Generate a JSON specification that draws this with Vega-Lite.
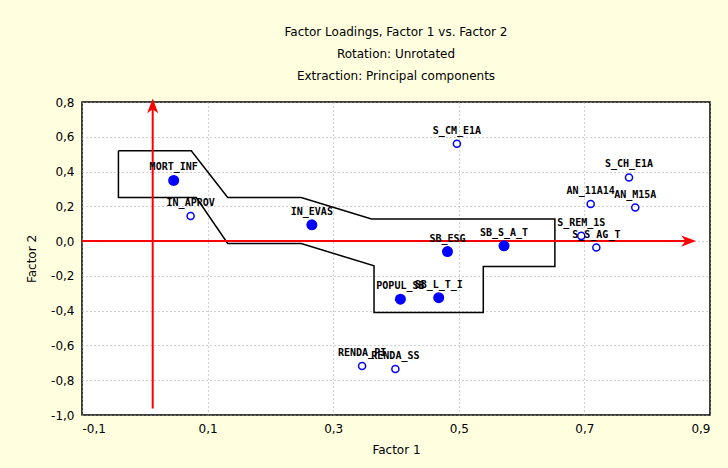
{
  "$schema": "https://vega.github.io/schema/vega-lite/v6.json",
  "autosize": "none",
  "width": 628,
  "height": 313,
  "padding": {"left": 82, "top": 102, "right": 18, "bottom": 53},
  "background": "#FFFFE0",
  "title": {
    "text": ["Factor Loadings, Factor 1 vs. Factor 2", "Rotation: Unrotated", "Extraction: Principal components"],
    "anchor": "middle",
    "font": "DejaVu Sans",
    "fontSize": 12,
    "fontWeight": "normal",
    "lineHeight": 22,
    "offset": 13,
    "color": "#000000"
  },
  "config": {
    "view": {"fill": "#FFFFFF", "stroke": "#000000", "strokeWidth": 1.5},
    "axis": {
      "labelFont": "DejaVu Sans",
      "labelFontSize": 12,
      "labelColor": "#000000",
      "titleFont": "DejaVu Sans",
      "titleFontSize": 12,
      "titleFontWeight": "normal",
      "titleColor": "#000000",
      "ticks": false,
      "domain": false,
      "gridColor": "#A0A0A0",
      "gridDash": [1, 3],
      "gridWidth": 1,
      "gridOpacity": 1
    }
  },
  "datasets": {
    "poly": [
      {"i": 1, "x": -0.042, "y": 0.52},
      {"i": 2, "x": 0.074, "y": 0.52},
      {"i": 3, "x": 0.132, "y": 0.251},
      {"i": 4, "x": 0.249, "y": 0.251},
      {"i": 5, "x": 0.361, "y": 0.127},
      {"i": 6, "x": 0.653, "y": 0.127},
      {"i": 7, "x": 0.653, "y": -0.146},
      {"i": 8, "x": 0.539, "y": -0.146},
      {"i": 9, "x": 0.539, "y": -0.411},
      {"i": 10, "x": 0.365, "y": -0.411},
      {"i": 11, "x": 0.365, "y": -0.142},
      {"i": 12, "x": 0.249, "y": -0.014},
      {"i": 13, "x": 0.132, "y": -0.014},
      {"i": 14, "x": 0.082, "y": 0.251},
      {"i": 15, "x": -0.042, "y": 0.251},
      {"i": 16, "x": -0.042, "y": 0.52}
    ],
    "redaxes": [
      {"x": -0.1, "x2": 0.868, "y": 0, "y2": 0},
      {"x": 0.0126, "x2": 0.0126, "y": -0.963, "y2": 0.79}
    ],
    "arrows": [
      {"x": 0.866, "y": 0, "dir": "right"},
      {"x": 0.0126, "y": 0.778, "dir": "up"}
    ],
    "loadings": [
      {"name": "MORT_INF", "x": 0.046, "y": 0.349, "kind": "filled"},
      {"name": "IN_APROV", "x": 0.073, "y": 0.144, "kind": "open"},
      {"name": "IN_EVAS", "x": 0.266, "y": 0.094, "kind": "filled"},
      {"name": "S_CM_E1A", "x": 0.497, "y": 0.56, "kind": "open"},
      {"name": "S_CH_E1A", "x": 0.771, "y": 0.366, "kind": "open"},
      {"name": "AN_11A14", "x": 0.71, "y": 0.213, "kind": "open"},
      {"name": "AN_M15A", "x": 0.781, "y": 0.193, "kind": "open"},
      {"name": "S_REM_1S", "x": 0.695, "y": 0.03, "kind": "open"},
      {"name": "S_S_AG_T", "x": 0.719, "y": -0.037, "kind": "open"},
      {"name": "SB_ESG", "x": 0.482, "y": -0.06, "kind": "filled"},
      {"name": "SB_S_A_T", "x": 0.572, "y": -0.027, "kind": "filled"},
      {"name": "POPUL_SB", "x": 0.407, "y": -0.334, "kind": "filled"},
      {"name": "SB_L_T_I", "x": 0.468, "y": -0.325, "kind": "filled"},
      {"name": "RENDA_PI", "x": 0.346, "y": -0.718, "kind": "open"},
      {"name": "RENDA_SS", "x": 0.399, "y": -0.735, "kind": "open"}
    ]
  },
  "encoding": {
    "x": {
      "field": "x",
      "type": "quantitative",
      "scale": {"domain": [-0.1, 0.9], "nice": false, "zero": false},
      "axis": {
        "title": "Factor 1",
        "values": [-0.1, 0.1, 0.3, 0.5, 0.7, 0.9],
        "labelExpr": "replace(replace(format(datum.value, '.1f'), '.', ','), '−', '-')",
        "labelPadding": 8,
        "titlePadding": 10
      }
    },
    "y": {
      "field": "y",
      "type": "quantitative",
      "scale": {"domain": [-1, 0.8], "nice": false, "zero": false},
      "axis": {
        "title": "Factor 2",
        "values": [-1, -0.8, -0.6, -0.4, -0.2, 0, 0.2, 0.4, 0.6, 0.8],
        "labelExpr": "replace(replace(format(datum.value, '.1f'), '.', ','), '−', '-')",
        "labelPadding": 8,
        "titlePadding": 12
      }
    }
  },
  "layer": [
    {
      "data": {"name": "poly"},
      "mark": {"type": "line", "color": "#000000", "strokeWidth": 1.5},
      "encoding": {"order": {"field": "i", "type": "quantitative"}}
    },
    {
      "data": {"name": "redaxes"},
      "mark": {"type": "rule", "color": "#FF0000", "strokeWidth": 2},
      "encoding": {
        "x2": {"field": "x2"},
        "y2": {"field": "y2"}
      }
    },
    {
      "data": {"name": "arrows"},
      "transform": [{"filter": "datum.dir == 'right'"}],
      "mark": {"type": "point", "shape": "M1,0L-1,-0.75L-0.45,0L-1,0.75Z", "filled": true, "color": "#FF0000", "size": 220, "opacity": 1}
    },
    {
      "data": {"name": "arrows"},
      "transform": [{"filter": "datum.dir == 'up'"}],
      "mark": {"type": "point", "shape": "M0,-1L-0.75,1L0,0.45L0.75,1Z", "filled": true, "color": "#FF0000", "size": 220, "opacity": 1}
    },
    {
      "data": {"name": "loadings"},
      "transform": [{"filter": "datum.kind == 'open'"}],
      "mark": {"type": "point", "shape": "circle", "filled": false, "color": "#0000FF", "size": 50, "strokeWidth": 1.5, "opacity": 1}
    },
    {
      "data": {"name": "loadings"},
      "transform": [{"filter": "datum.kind == 'filled'"}],
      "mark": {"type": "point", "shape": "circle", "filled": true, "color": "#0000FF", "size": 121, "opacity": 1}
    },
    {
      "data": {"name": "loadings"},
      "mark": {"type": "text", "font": "DejaVu Sans Mono", "fontSize": 10, "fontWeight": "bold", "color": "#000000", "dy": -13, "align": "center", "baseline": "middle"},
      "encoding": {"text": {"field": "name"}}
    }
  ]
}
